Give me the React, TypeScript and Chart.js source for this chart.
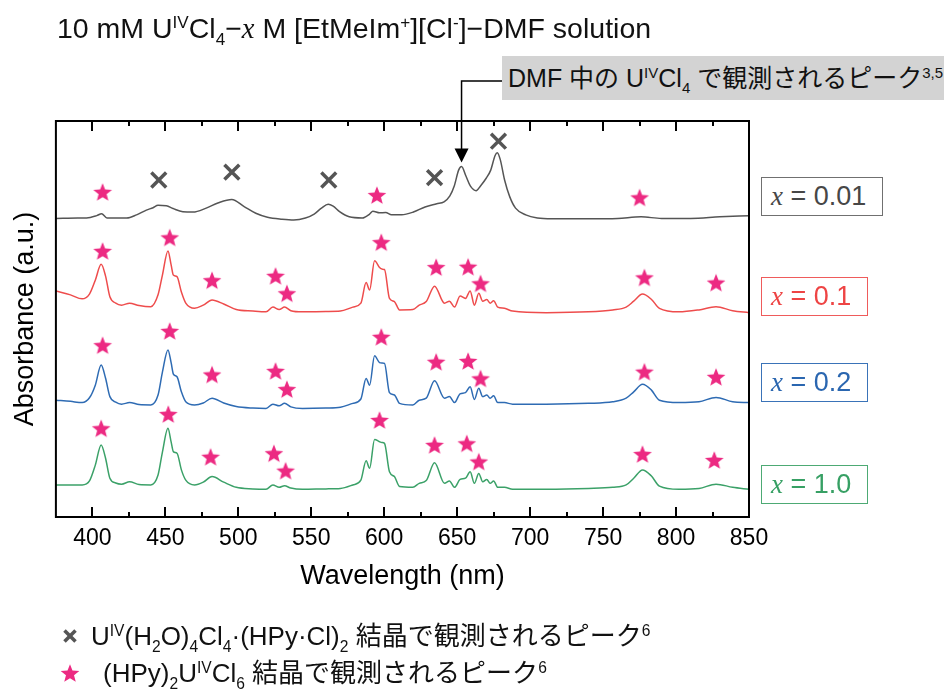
import React, { useEffect, useRef } from 'react';
import { Chart, registerables } from 'chart.js';

Chart.register(...registerables);

// ---------- data (wavelength in nm, absorbance in offset a.u.) ----------
const xTickValues = [400, 450, 500, 550, 600, 650, 700, 750, 800, 850];

const wlBlack = [375, 390, 396, 403, 406.3, 410, 423.5, 430.3, 437, 441.6, 445, 450.7, 455.3, 462, 469, 478, 486, 495.5, 504, 512, 520, 530, 538, 546, 552, 557, 561.6, 565, 569.4, 576, 585, 590, 592.2, 596.8, 601, 605, 612, 620, 628, 636, 641, 645, 648, 651, 653, 656, 659, 663, 666, 670, 673, 676, 677.5, 679.5, 682.5, 686, 690, 697, 705, 715, 740, 760, 776, 790, 810, 830, 850];
const absBlack = [7.54, 7.55, 7.55, 7.61, 7.66, 7.55, 7.55, 7.63, 7.75, 7.81, 7.87, 7.86, 7.79, 7.71, 7.70, 7.80, 7.93, 8.02, 7.84, 7.67, 7.57, 7.52, 7.50, 7.55, 7.65, 7.80, 7.90, 7.85, 7.71, 7.58, 7.55, 7.65, 7.72, 7.68, 7.69, 7.63, 7.63, 7.70, 7.83, 7.91, 7.96, 8.11, 8.36, 8.76, 8.85, 8.61, 8.36, 8.24, 8.36, 8.56, 8.76, 9.13, 9.20, 9.03, 8.51, 8.09, 7.80, 7.63, 7.55, 7.53, 7.53, 7.54, 7.58, 7.54, 7.54, 7.58, 7.61];

const wlSalt = [375, 385, 393, 398, 402, 406, 409, 412, 416, 420, 425.5, 432, 440, 445, 448, 451.8, 454, 455.5, 458, 461, 464, 470, 476, 482, 490, 498.6, 510, 519, 523.7, 528, 531.7, 536, 544, 560, 570, 578.5, 584, 587.6, 590, 593.4, 596.8, 598.5, 600.2, 603.6, 607, 610.5, 619.6, 624, 628.8, 634.5, 641.3, 644.7, 648.2, 652, 655.7, 658.9, 661.8, 664.8, 667.5, 670.3, 672.6, 675, 677.8, 682.4, 688, 711, 740, 756.6, 765.8, 771, 777, 783, 788.6, 802, 815.7, 827.4, 838.8, 850];
const absRed = [5.71, 5.61, 5.51, 5.63, 5.98, 6.38, 6.09, 5.56, 5.40, 5.35, 5.40, 5.34, 5.31, 5.61, 6.11, 6.72, 6.36, 6.11, 6.07, 5.68, 5.40, 5.27, 5.35, 5.48, 5.38, 5.24, 5.20, 5.18, 5.30, 5.24, 5.30, 5.21, 5.18, 5.19, 5.20, 5.30, 5.40, 5.92, 5.73, 6.47, 6.30, 6.26, 6.25, 5.52, 5.44, 5.23, 5.24, 5.35, 5.44, 5.83, 5.40, 5.45, 5.30, 5.58, 5.52, 5.71, 5.35, 5.65, 5.45, 5.49, 5.40, 5.46, 5.30, 5.27, 5.20, 5.16, 5.18, 5.23, 5.30, 5.45, 5.63, 5.50, 5.27, 5.18, 5.23, 5.31, 5.21, 5.16];
const absBlue = [2.95, 2.92, 2.89, 3.01, 3.33, 3.84, 3.51, 3.04, 2.90, 2.85, 2.89, 2.84, 2.83, 3.08, 3.66, 4.22, 3.89, 3.61, 3.54, 3.16, 2.91, 2.83, 2.88, 3.00, 2.88, 2.79, 2.75, 2.74, 2.85, 2.81, 2.87, 2.78, 2.74, 2.75, 2.77, 2.87, 2.98, 3.50, 3.33, 4.07, 3.90, 3.89, 3.88, 3.14, 3.08, 2.87, 2.83, 2.95, 3.00, 3.44, 3.00, 3.04, 2.89, 3.11, 3.14, 3.29, 2.97, 3.25, 3.04, 3.08, 3.00, 3.06, 2.89, 2.89, 2.85, 2.85, 2.87, 2.91, 3.00, 3.16, 3.35, 3.21, 2.95, 2.89, 2.91, 3.02, 2.91, 2.89];
const absGreen = [0.81, 0.81, 0.81, 0.91, 1.31, 1.82, 1.49, 0.98, 0.86, 0.83, 0.89, 0.82, 0.81, 1.06, 1.64, 2.24, 1.89, 1.65, 1.61, 1.19, 0.93, 0.81, 0.88, 1.02, 0.88, 0.75, 0.71, 0.70, 0.81, 0.75, 0.79, 0.73, 0.70, 0.71, 0.72, 0.81, 0.93, 1.42, 1.23, 1.96, 1.90, 1.88, 1.86, 1.14, 1.02, 0.77, 0.75, 0.85, 0.92, 1.37, 0.85, 0.91, 0.75, 0.95, 0.98, 1.14, 0.85, 1.10, 0.89, 0.95, 0.85, 0.91, 0.75, 0.75, 0.70, 0.70, 0.72, 0.75, 0.81, 0.98, 1.19, 1.04, 0.78, 0.70, 0.72, 0.83, 0.75, 0.70];

// star markers: (HPy)2 U(IV)Cl6 crystal peaks
const starBlackWl = [407, 595, 775];
const starBlackY = [8.21, 8.13, 8.07];
const starRedWl = [407, 453, 482, 525.5, 533.3, 598, 635.6, 657.5, 666, 778.3, 827.4];
const starRedY = [6.72, 7.06, 5.98, 6.09, 5.65, 6.94, 6.31, 6.32, 5.90, 6.05, 5.92];
const starBlueWl = [407, 453, 482, 525.5, 533.3, 598, 635.6, 657.5, 666, 778.3, 827.4];
const starBlueY = [4.34, 4.70, 3.60, 3.69, 3.23, 4.55, 3.92, 3.94, 3.50, 3.67, 3.54];
const starGreenWl = [406, 452, 481, 524.4, 532.4, 596.8, 634.5, 656.6, 664.8, 777, 826.2];
const starGreenY = [2.24, 2.60, 1.52, 1.61, 1.17, 2.45, 1.82, 1.86, 1.40, 1.59, 1.44];

// cross markers: U(IV)(H2O)4Cl4·(HPy·Cl)2 crystal peaks
const crossWl = [445.5, 495.6, 562, 634.5, 678.3];
const crossY = [8.51, 8.71, 8.51, 8.57, 9.49];

// arrow target (DMF UCl4 peak)
const arrowWl = 653;
const arrowTipY = 8.95;

const seriesNames = ['0.01', '0.1', '0.2', '1.0'];
const lineColors = ['#555555', '#EE4C4C', '#2E6BB3', '#3BA168'];
const labelTextColors = ['#474747', '#EE4444', '#2A66B0', '#37A064'];
const labelBorderColors = ['#707070', '#EF5B5B', '#3A73B8', '#4DAA74'];
const starColor = '#EC2A82';
const crossColor = '#555555';

const SANS = '"Liberation Sans", Arial, "Noto Sans CJK JP", sans-serif';
const SERIF = '"Liberation Serif", "Times New Roman", serif';

const pts = (xs: number[], ys: number[]) => xs.map((x, i) => ({ x, y: ys[i] }));

function makeStar(size: number, color: string) {
  const c = document.createElement('canvas');
  c.width = size;
  c.height = size;
  const g = c.getContext('2d')!;
  const R = size / 2 - 0.2;
  const r = R * 0.43;
  const cx = size / 2;
  const cy = size / 2 + R * 0.095;
  g.beginPath();
  for (let i = 0; i < 10; i++) {
    const a = -Math.PI / 2 + (i * Math.PI) / 5;
    const rr = i % 2 ? r : R;
    g.lineTo(cx + rr * Math.cos(a), cy + rr * Math.sin(a));
  }
  g.closePath();
  g.fillStyle = color;
  g.fill();
  return c;
}

const Sup = ({ children }: { children: React.ReactNode }) => (
  <span style={{ fontSize: '0.6em', position: 'relative', top: '-0.6em', lineHeight: 0 }}>{children}</span>
);
const Sub = ({ children }: { children: React.ReactNode }) => (
  <span style={{ fontSize: '0.6em', position: 'relative', top: '0.42em', lineHeight: 0 }}>{children}</span>
);
const Xi = () => <span style={{ fontFamily: SERIF, fontStyle: 'italic' }}>x</span>;

const StarIcon = ({ size, color }: { size: number; color: string }) => {
  const R = size / 2 - 0.2;
  const r = R * 0.43;
  const cx = size / 2;
  const cy = size / 2 + R * 0.095;
  const p: string[] = [];
  for (let i = 0; i < 10; i++) {
    const a = -Math.PI / 2 + (i * Math.PI) / 5;
    const rr = i % 2 ? r : R;
    p.push(`${(cx + rr * Math.cos(a)).toFixed(2)},${(cy + rr * Math.sin(a)).toFixed(2)}`);
  }
  return (
    <svg width={size} height={size} style={{ display: 'block' }}>
      <polygon points={p.join(' ')} fill={color} />
    </svg>
  );
};

export default function App() {
  const ref = useRef<HTMLCanvasElement | null>(null);

  useEffect(() => {
    const canvas = ref.current;
    if (!canvas) return;
    const starImg = makeStar(20, starColor);

    const decor = {
      id: 'decor',
      afterDraw(chart: any) {
        const { ctx, chartArea } = chart;
        const xs = chart.scales.x;
        const ys = chart.scales.y;
        const { left, right, top, bottom } = chartArea;
        ctx.save();
        ctx.strokeStyle = '#000';
        ctx.lineWidth = 2;
        // inward ticks (major every 50, minor every 25)
        for (let v = 400; v < 850; v += 25) {
          const px = Math.round(xs.getPixelForValue(v));
          const len = v % 50 === 0 ? 10 : 5;
          ctx.beginPath();
          ctx.moveTo(px, bottom);
          ctx.lineTo(px, bottom - len);
          ctx.moveTo(px, top);
          ctx.lineTo(px, top + len);
          ctx.stroke();
        }
        ctx.strokeRect(left, top, right - left, bottom - top);

        // annotation arrow
        const ax = xs.getPixelForValue(arrowWl);
        const tipY = ys.getPixelForValue(arrowTipY);
        ctx.lineWidth = 1.5;
        ctx.strokeStyle = '#000';
        ctx.beginPath();
        ctx.moveTo(502, 81);
        ctx.lineTo(ax, 81);
        ctx.lineTo(ax, tipY - 12);
        ctx.stroke();
        ctx.fillStyle = '#000';
        ctx.beginPath();
        ctx.moveTo(ax - 7, tipY - 14);
        ctx.lineTo(ax + 7, tipY - 14);
        ctx.lineTo(ax, tipY);
        ctx.closePath();
        ctx.fill();
        ctx.restore();
      },
    };

    const lineDs = (label: string, xsArr: number[], ysArr: number[], color: string) => ({
      label,
      data: pts(xsArr, ysArr),
      showLine: true,
      borderColor: color,
      borderWidth: 1.5,
      pointRadius: 0,
      cubicInterpolationMode: 'monotone' as const,
      order: 2,
    });

    const chart = new Chart(canvas, {
      type: 'scatter',
      data: {
        datasets: [
          {
            label: 'crystal (HPy)2UCl6',
            data: [
              ...pts(starBlackWl, starBlackY),
              ...pts(starRedWl, starRedY),
              ...pts(starBlueWl, starBlueY),
              ...pts(starGreenWl, starGreenY),
            ],
            pointStyle: starImg as any,
            pointRadius: 10,
            showLine: false,
            order: 0,
          },
          {
            label: 'crystal U(H2O)4Cl4',
            data: pts(crossWl, crossY),
            pointStyle: 'crossRot',
            pointRadius: 10.5,
            borderWidth: 3.5,
            borderColor: crossColor,
            backgroundColor: crossColor,
            showLine: false,
            order: 0,
          },
          lineDs('x = ' + seriesNames[0], wlBlack, absBlack, lineColors[0]),
          lineDs('x = ' + seriesNames[1], wlSalt, absRed, lineColors[1]),
          lineDs('x = ' + seriesNames[2], wlSalt, absBlue, lineColors[2]),
          lineDs('x = ' + seriesNames[3], wlSalt, absGreen, lineColors[3]),
        ] as any,
      },
      options: {
        animation: false,
        responsive: false,
        maintainAspectRatio: false,
        events: [],
        layout: { padding: { left: 5, top: 121, right: 195, bottom: 100 } },
        font: { family: SANS },
        plugins: { legend: { display: false }, tooltip: { enabled: false } },
        scales: {
          x: {
            type: 'linear',
            min: 375,
            max: 850,
            afterBuildTicks: (axis: any) => {
              axis.ticks = xTickValues.map((v) => ({ value: v }));
            },
            ticks: { font: { size: 23, family: SANS }, color: '#000', padding: 8, maxRotation: 0, autoSkip: false },
            grid: { display: false, drawTicks: false },
            border: { display: false },
            title: {
              display: true,
              text: 'Wavelength (nm)',
              font: { size: 27, family: SANS },
              color: '#000',
              padding: { top: 0, bottom: 4 },
            },
          },
          y: {
            type: 'linear',
            min: 0,
            max: 10,
            ticks: { display: false },
            grid: { display: false, drawTicks: false },
            border: { display: false },
            title: {
              display: true,
              text: 'Absorbance (a.u.)',
              font: { size: 27, family: SANS },
              color: '#000',
              padding: { top: 4, bottom: 14.5 },
            },
          },
        },
      } as any,
      plugins: [decor],
    });
    return () => chart.destroy();
  }, []);

  const boxTops = [177, 277, 362.5, 465];
  const boxWidths = [122, 107, 107, 107];

  return (
    <div style={{ position: 'fixed', left: 0, top: 0, width: 944, height: 697, background: '#fff', fontFamily: SANS, overflow: 'hidden' }}>
      <canvas ref={ref} width={944} height={697} style={{ position: 'absolute', left: 0, top: 0, width: 944, height: 697 }} />

      {/* title */}
      <div style={{ position: 'absolute', left: 57, top: 14.2, fontSize: 28.5, lineHeight: 1, whiteSpace: 'nowrap', color: '#111' }}>
        10 mM U<Sup>IV</Sup>Cl<Sub>4</Sub>−<Xi /> M [EtMeIm<Sup>+</Sup>][Cl<Sup>-</Sup>]−DMF solution
      </div>

      {/* annotation box */}
      <div
        style={{
          position: 'absolute', left: 502, top: 56, width: 442, height: 44, background: '#D3D3D3',
          display: 'flex', alignItems: 'center', paddingLeft: 6, boxSizing: 'border-box',
          fontSize: 25, lineHeight: 1, whiteSpace: 'nowrap', color: '#111',
        }}
      >
        <span>DMF 中の U<Sup>IV</Sup>Cl<Sub>4</Sub> で観測されるピーク<Sup>3,5</Sup></span>
      </div>

      {/* series labels */}
      {seriesNames.map((n, i) => (
        <div
          key={n}
          style={{
            position: 'absolute', left: 761, top: boxTops[i], width: boxWidths[i], height: 39,
            border: `1.5px solid ${labelBorderColors[i]}`, boxSizing: 'border-box',
            display: 'flex', alignItems: 'center', paddingLeft: 9,
            fontSize: 27, lineHeight: 1, whiteSpace: 'nowrap', color: labelTextColors[i], background: '#fff',
          }}
        >
          <span><Xi /> = {n}</span>
        </div>
      ))}

      {/* bottom legend */}
      <div style={{ position: 'absolute', left: 62, top: 628 }}>
        <svg width={16} height={16} style={{ display: 'block' }}>
          <line x1={2.5} y1={2.5} x2={13.5} y2={13.5} stroke={crossColor} strokeWidth={3.5} />
          <line x1={13.5} y1={2.5} x2={2.5} y2={13.5} stroke={crossColor} strokeWidth={3.5} />
        </svg>
      </div>
      <div style={{ position: 'absolute', left: 91, top: 623, fontSize: 26, lineHeight: 1, whiteSpace: 'nowrap', color: '#111' }}>
        U<Sup>IV</Sup>(H<Sub>2</Sub>O)<Sub>4</Sub>Cl<Sub>4</Sub>·(HPy·Cl)<Sub>2</Sub> 結晶で観測されるピーク<Sup>6</Sup>
      </div>
      <div style={{ position: 'absolute', left: 60, top: 663 }}>
        <StarIcon size={20} color={starColor} />
      </div>
      <div style={{ position: 'absolute', left: 103, top: 660, fontSize: 26, lineHeight: 1, whiteSpace: 'nowrap', color: '#111' }}>
        (HPy)<Sub>2</Sub>U<Sup>IV</Sup>Cl<Sub>6</Sub> 結晶で観測されるピーク<Sup>6</Sup>
      </div>
    </div>
  );
}
